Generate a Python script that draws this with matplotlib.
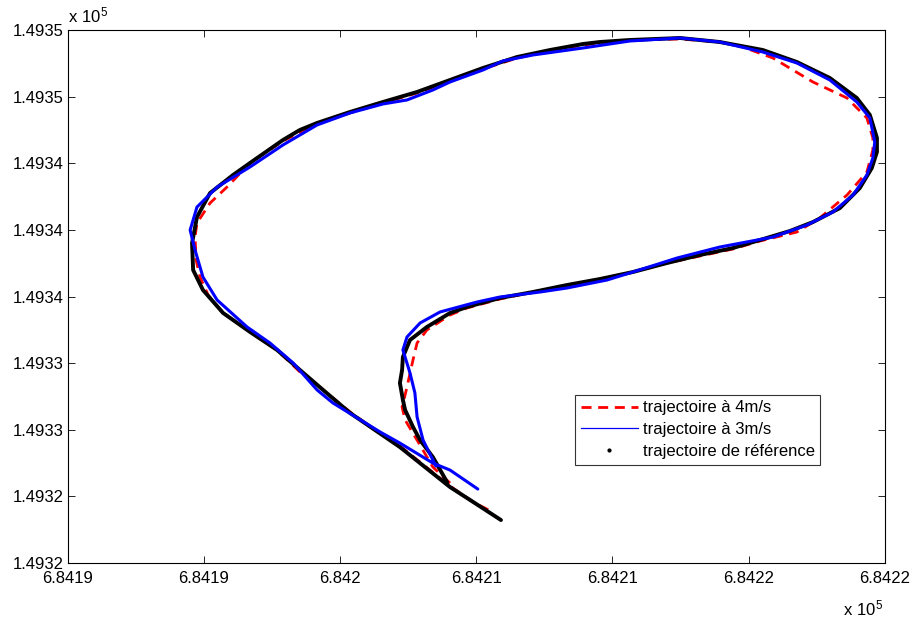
import matplotlib
matplotlib.use("Agg")
import matplotlib.pyplot as plt
from matplotlib.lines import Line2D

plt.rcParams["font.family"] = ["Liberation Sans", "DejaVu Sans"]

# ── Data (UTM-like coordinates, offsets in metres from the axis origin) ──────
E0 = 684190.0
N0 = 149320.0

ref_e = [13.93, 13.41, 12.94, 12.68, 12.39, 12.31, 12.20, 12.28, 12.31, 12.57,
         13.19, 14.04, 14.66, 15.87, 17.08, 18.33, 19.54, 20.75, 22.00, 23.21,
         24.42, 25.41, 26.51, 27.36, 28.35, 29.08, 29.52, 29.71, 29.71, 29.45,
         28.97, 27.98, 26.77, 25.52, 23.94, 22.48, 20.64, 19.54, 18.92, 17.71,
         16.50, 15.25, 14.04, 12.83, 11.58, 10.37, 9.16, 8.53, 7.91, 6.70,
         6.07, 5.23, 4.75, 4.57, 4.61, 4.97, 5.71, 6.70, 7.69, 8.53,
         9.38, 10.37, 11.28, 12.20, 13.12, 14.04, 14.95, 15.91]
ref_n = [4.86, 6.36, 7.38, 8.17, 9.19, 9.79, 10.81, 11.59, 12.37, 13.39,
         14.17, 15.01, 15.37, 15.91, 16.27, 16.69, 17.05, 17.47, 18.01, 18.49,
         18.91, 19.39, 19.93, 20.47, 21.31, 22.51, 23.71, 24.68, 25.52, 26.90,
         27.92, 29.12, 30.08, 30.80, 31.28, 31.52, 31.40, 31.28, 31.16, 30.80,
         30.38, 29.72, 29.00, 28.28, 27.68, 27.08, 26.42, 26.00, 25.40, 24.02,
         23.29, 22.21, 20.77, 19.21, 17.59, 16.39, 15.01, 13.87, 12.79, 11.59,
         10.39, 9.01, 7.99, 6.96, 5.76, 4.56, 3.60, 2.58]

v4_e = [14.04, 13.41, 12.83, 12.39, 12.28, 12.39, 12.46, 12.68, 12.83, 13.19,
        14.04, 14.66, 15.87, 17.08, 18.33, 19.54, 20.75, 22.00, 23.21, 24.42,
        25.41, 26.77, 27.61, 28.61, 29.34, 29.56, 29.56, 29.34, 28.61, 27.36,
        25.89, 24.68, 23.94, 22.48, 20.64, 18.92, 17.71, 16.50, 15.25, 14.04,
        12.83, 11.58, 10.37, 9.16, 7.91, 6.70, 5.85, 5.23, 4.75, 4.68,
        4.72, 4.86, 5.16, 5.71, 6.70, 7.69, 8.53, 9.38, 10.37, 11.28,
        12.20, 13.12, 14.04, 14.95, 15.61]
v4_n = [4.80, 5.76, 7.38, 8.59, 9.37, 10.09, 10.57, 12.19, 13.21, 13.99,
        14.89, 15.31, 15.85, 16.27, 16.63, 17.05, 17.47, 18.01, 18.43, 18.85,
        19.33, 19.87, 20.71, 22.09, 23.47, 24.80, 25.52, 26.72, 27.92, 28.88,
        30.32, 31.04, 31.28, 31.46, 31.40, 31.10, 30.74, 30.32, 29.66, 28.94,
        28.22, 27.62, 27.02, 26.36, 25.34, 24.02, 22.57, 21.61, 20.41, 19.57,
        18.19, 17.17, 16.09, 15.01, 13.87, 12.79, 11.47, 10.39, 9.07, 7.99,
        7.02, 5.82, 4.62, 3.60, 3.06]

v3_e = [13.52, 13.05, 12.83, 12.75, 12.57, 12.31, 12.46, 12.94, 13.67, 15.03,
        15.87, 17.34, 18.33, 19.80, 20.75, 22.37, 23.94, 25.89, 27.14, 28.09,
        28.83, 29.34, 29.56, 29.63, 29.45, 28.97, 27.98, 26.77, 25.52, 23.94,
        22.48, 20.64, 18.92, 17.08, 15.98, 15.25, 14.04, 13.41, 12.46, 11.58,
        10.37, 9.16, 7.91, 6.70, 5.49, 4.75, 4.50, 4.68, 4.97, 5.49,
        6.59, 7.43, 8.28, 9.16, 9.74, 11.47, 12.20, 13.41, 14.04, 15.06]
v3_n = [5.82, 7.38, 8.77, 10.21, 11.41, 12.79, 13.57, 14.41, 15.07, 15.67,
        15.97, 16.27, 16.51, 16.99, 17.47, 18.31, 18.97, 19.57, 20.29, 21.07,
        22.09, 23.29, 24.32, 25.28, 26.72, 27.68, 29.00, 30.02, 30.68, 31.28,
        31.52, 31.34, 30.92, 30.50, 30.14, 29.60, 28.88, 28.40, 27.80, 27.56,
        27.02, 26.30, 25.10, 23.78, 22.57, 21.37, 19.99, 18.79, 17.17, 15.79,
        14.17, 13.21, 12.01, 10.39, 9.61, 7.87, 7.20, 6.00, 5.58, 4.44]

x_ticks = [684190, 684195, 684200, 684205, 684210, 684215, 684220]
x_labels = ["6.8419", "6.8419", "6.842", "6.8421", "6.8421", "6.8422", "6.8422"]
y_ticks = [149320, 149324, 149328, 149332, 149336, 149340, 149344, 149348, 149352]
y_labels = ["1.4932", "1.4932", "1.4933", "1.4933", "1.4934", "1.4934",
            "1.4934", "1.4935", "1.4935"]

labels = ["trajectoire à 4m/s", "trajectoire à 3m/s", "trajectoire de référence"]

# ── Plot ──────────────────────────────────────────────────────────────────────
fig = plt.figure(figsize=(9.14, 6.2), dpi=100)
ax = fig.add_axes([0.0739, 0.0919, 0.8942, 0.8597])

dash = (0, (3.6, 2.4))
ax.plot([E0 + e for e in v4_e], [N0 + n for n in v4_n],
        color="red", lw=2.0, ls=dash, zorder=2)
ax.plot([E0 + e for e in ref_e], [N0 + n for n in ref_n],
        color="black", lw=2.8, zorder=3, solid_capstyle="round",
        solid_joinstyle="round")
ax.plot([E0 + e for e in v3_e], [N0 + n for n in v3_n],
        color="#0000ff", lw=2.2, zorder=4, solid_capstyle="round",
        solid_joinstyle="round")

ax.set_xlim(x_ticks[0], x_ticks[-1])
ax.set_ylim(y_ticks[0], y_ticks[-1])
ax.set_xticks(x_ticks)
ax.set_xticklabels(x_labels)
ax.set_yticks(y_ticks)
ax.set_yticklabels(y_labels)
ax.tick_params(direction="in", top=True, right=True, length=5, width=0.6,
               labelsize=12)
ax.tick_params(axis="x", pad=6)
ax.tick_params(axis="y", pad=3)
for sp in ax.spines.values():
    sp.set_linewidth(0.8)

handles = [
    Line2D([], [], color="red", lw=2.0, ls=dash),
    Line2D([], [], color="#0000ff", lw=0.9),
    Line2D([], [], color="black", ls="none", marker=".", markersize=4),
]
leg = ax.legend(handles, labels, loc="upper left", bbox_to_anchor=(0.621, 0.316),
                fontsize=12, frameon=True, fancybox=False, borderpad=0.35,
                handlelength=3.4, handletextpad=0.3, labelspacing=0.4,
                borderaxespad=0)
leg.get_frame().set_edgecolor("black")
leg.get_frame().set_linewidth(0.8)

fig.text(68 / 914, 1 - 15 / 620, r"$\mathregular{x\ 10^{5}}$", fontsize=12,
         ha="left", va="center")
fig.text(843 / 914, 1 - 608 / 620, r"$\mathregular{x\ 10^{5}}$", fontsize=12,
         ha="left", va="center")

fig.savefig("out.png", dpi=100)
